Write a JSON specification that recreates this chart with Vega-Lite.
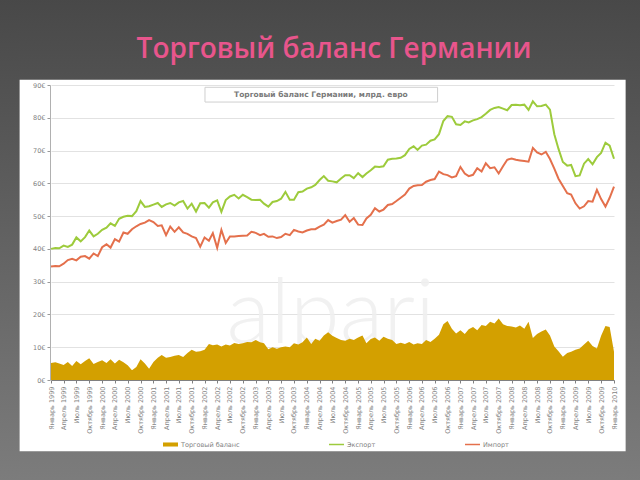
{
 "$schema": "https://vega.github.io/schema/vega-lite/v6.json",
 "autosize": {"type": "none"},
 "width": 563,
 "height": 295,
 "padding": {"left": 51, "top": 85, "right": 26, "bottom": 100},
 "background": "#ffffff",
 "config": {
  "view": {"stroke": null},
  "axis": {"labelFont": "DejaVu Sans", "labelColor": "#7f7f7f", "labelFontSize": 6.5, "domainColor": "#999999", "tickColor": "#999999", "tickSize": 3, "gridColor": "#e2e2e2"}
 },
 "datasets": {
  "trade": [
   {"d":"1999/01/01","balance":5.2,"export":40.0,"import":34.6},
   {"d":"1999/02/01","balance":5.4,"export":40.3,"import":34.8},
   {"d":"1999/03/01","balance":5.0,"export":40.2,"import":34.7},
   {"d":"1999/04/01","balance":4.6,"export":41.0,"import":35.5},
   {"d":"1999/05/01","balance":5.5,"export":40.6,"import":36.6},
   {"d":"1999/06/01","balance":4.3,"export":41.3,"import":37.0},
   {"d":"1999/07/01","balance":5.8,"export":43.5,"import":36.5},
   {"d":"1999/08/01","balance":4.8,"export":42.3,"import":37.6},
   {"d":"1999/09/01","balance":5.8,"export":43.6,"import":37.8},
   {"d":"1999/10/01","balance":6.6,"export":45.6,"import":37.0},
   {"d":"1999/11/01","balance":4.9,"export":43.8,"import":38.6},
   {"d":"1999/12/01","balance":5.5,"export":44.6,"import":37.8},
   {"d":"2000/01/01","balance":6.0,"export":45.8,"import":40.5},
   {"d":"2000/02/01","balance":5.2,"export":46.5,"import":41.4},
   {"d":"2000/03/01","balance":6.3,"export":47.8,"import":40.4},
   {"d":"2000/04/01","balance":5.0,"export":47.0,"import":43.0},
   {"d":"2000/05/01","balance":6.2,"export":49.2,"import":42.2},
   {"d":"2000/06/01","balance":5.4,"export":49.8,"import":45.0},
   {"d":"2000/07/01","balance":4.5,"export":50.1,"import":44.6},
   {"d":"2000/08/01","balance":3.0,"export":50.0,"import":46.0},
   {"d":"2000/09/01","balance":4.0,"export":51.5,"import":46.9},
   {"d":"2000/10/01","balance":6.3,"export":54.6,"import":47.6},
   {"d":"2000/11/01","balance":5.0,"export":52.8,"import":48.0},
   {"d":"2000/12/01","balance":3.4,"export":53.0,"import":48.8},
   {"d":"2001/01/01","balance":5.5,"export":53.5,"import":48.2},
   {"d":"2001/02/01","balance":6.8,"export":54.0,"import":47.0},
   {"d":"2001/03/01","balance":7.6,"export":52.8,"import":47.2},
   {"d":"2001/04/01","balance":6.8,"export":53.6,"import":44.2},
   {"d":"2001/05/01","balance":7.0,"export":54.0,"import":46.8},
   {"d":"2001/06/01","balance":7.4,"export":53.2,"import":45.2},
   {"d":"2001/07/01","balance":7.6,"export":54.2,"import":46.6},
   {"d":"2001/08/01","balance":7.0,"export":54.6,"import":45.0},
   {"d":"2001/09/01","balance":8.2,"export":52.3,"import":44.6},
   {"d":"2001/10/01","balance":9.2,"export":53.8,"import":43.8},
   {"d":"2001/11/01","balance":8.6,"export":51.4,"import":43.3},
   {"d":"2001/12/01","balance":8.8,"export":53.9,"import":40.7},
   {"d":"2002/01/01","balance":9.2,"export":54.0,"import":43.5},
   {"d":"2002/02/01","balance":11.0,"export":52.6,"import":42.5},
   {"d":"2002/03/01","balance":10.6,"export":54.2,"import":44.8},
   {"d":"2002/04/01","balance":10.8,"export":54.8,"import":40.3},
   {"d":"2002/05/01","balance":10.2,"export":51.3,"import":45.8},
   {"d":"2002/06/01","balance":10.8,"export":54.9,"import":41.8},
   {"d":"2002/07/01","balance":10.5,"export":56.0,"import":43.8},
   {"d":"2002/08/01","balance":11.3,"export":56.5,"import":43.8},
   {"d":"2002/09/01","balance":11.0,"export":55.4,"import":43.9},
   {"d":"2002/10/01","balance":11.2,"export":56.5,"import":44.0},
   {"d":"2002/11/01","balance":11.6,"export":55.8,"import":44.1},
   {"d":"2002/12/01","balance":11.5,"export":55.0,"import":45.2},
   {"d":"2003/01/01","balance":12.2,"export":54.9,"import":44.9},
   {"d":"2003/02/01","balance":11.5,"export":55.0,"import":44.2},
   {"d":"2003/03/01","balance":11.2,"export":53.8,"import":44.6},
   {"d":"2003/04/01","balance":9.4,"export":52.9,"import":43.7},
   {"d":"2003/05/01","balance":10.0,"export":54.3,"import":43.8},
   {"d":"2003/06/01","balance":9.5,"export":54.6,"import":43.3},
   {"d":"2003/07/01","balance":10.0,"export":55.3,"import":43.6},
   {"d":"2003/08/01","balance":10.2,"export":57.4,"import":44.6},
   {"d":"2003/09/01","balance":10.0,"export":55.0,"import":44.2},
   {"d":"2003/10/01","balance":11.2,"export":55.0,"import":45.8},
   {"d":"2003/11/01","balance":10.8,"export":57.3,"import":45.3},
   {"d":"2003/12/01","balance":11.5,"export":57.5,"import":45.0},
   {"d":"2004/01/01","balance":13.0,"export":58.4,"import":45.6},
   {"d":"2004/02/01","balance":11.0,"export":58.8,"import":46.0},
   {"d":"2004/03/01","balance":12.6,"export":59.5,"import":46.0},
   {"d":"2004/04/01","balance":12.0,"export":61.0,"import":46.8},
   {"d":"2004/05/01","balance":13.6,"export":62.2,"import":47.4},
   {"d":"2004/06/01","balance":14.6,"export":60.8,"import":48.8},
   {"d":"2004/07/01","balance":13.5,"export":60.6,"import":48.0},
   {"d":"2004/08/01","balance":12.8,"export":60.3,"import":48.5},
   {"d":"2004/09/01","balance":12.2,"export":61.5,"import":48.9},
   {"d":"2004/10/01","balance":12.0,"export":62.5,"import":50.3},
   {"d":"2004/11/01","balance":12.6,"export":62.5,"import":48.3},
   {"d":"2004/12/01","balance":12.2,"export":61.6,"import":49.4},
   {"d":"2005/01/01","balance":13.0,"export":63.1,"import":47.4},
   {"d":"2005/02/01","balance":13.6,"export":61.9,"import":47.3},
   {"d":"2005/03/01","balance":11.2,"export":63.0,"import":49.3},
   {"d":"2005/04/01","balance":12.5,"export":64.0,"import":50.4},
   {"d":"2005/05/01","balance":13.0,"export":65.1,"import":52.4},
   {"d":"2005/06/01","balance":12.0,"export":65.0,"import":51.4},
   {"d":"2005/07/01","balance":13.2,"export":65.2,"import":52.0},
   {"d":"2005/08/01","balance":12.6,"export":67.2,"import":53.4},
   {"d":"2005/09/01","balance":12.2,"export":67.5,"import":53.7},
   {"d":"2005/10/01","balance":11.0,"export":67.6,"import":54.6},
   {"d":"2005/11/01","balance":11.4,"export":67.8,"import":55.6},
   {"d":"2005/12/01","balance":11.0,"export":68.6,"import":56.6},
   {"d":"2006/01/01","balance":11.6,"export":70.5,"import":58.4},
   {"d":"2006/02/01","balance":10.8,"export":71.3,"import":59.2},
   {"d":"2006/03/01","balance":11.2,"export":70.2,"import":59.4},
   {"d":"2006/04/01","balance":11.0,"export":71.5,"import":59.5},
   {"d":"2006/05/01","balance":12.2,"export":71.8,"import":60.5},
   {"d":"2006/06/01","balance":11.6,"export":73.0,"import":61.0},
   {"d":"2006/07/01","balance":12.6,"export":73.4,"import":61.3},
   {"d":"2006/08/01","balance":13.8,"export":75.0,"import":63.6},
   {"d":"2006/09/01","balance":17.0,"export":79.0,"import":62.8},
   {"d":"2006/10/01","balance":18.0,"export":80.5,"import":62.5},
   {"d":"2006/11/01","balance":15.6,"export":80.3,"import":61.8},
   {"d":"2006/12/01","balance":14.2,"export":78.0,"import":62.2},
   {"d":"2007/01/01","balance":15.2,"export":77.8,"import":65.0},
   {"d":"2007/02/01","balance":14.0,"export":78.9,"import":63.0},
   {"d":"2007/03/01","balance":15.5,"export":78.6,"import":62.2},
   {"d":"2007/04/01","balance":16.2,"export":79.2,"import":62.6},
   {"d":"2007/05/01","balance":15.2,"export":79.6,"import":64.6},
   {"d":"2007/06/01","balance":16.8,"export":80.2,"import":63.6},
   {"d":"2007/07/01","balance":16.5,"export":81.2,"import":66.1},
   {"d":"2007/08/01","balance":17.8,"export":82.4,"import":64.6},
   {"d":"2007/09/01","balance":17.2,"export":83.0,"import":64.9},
   {"d":"2007/10/01","balance":18.8,"export":83.3,"import":63.0},
   {"d":"2007/11/01","balance":17.0,"export":82.8,"import":65.2},
   {"d":"2007/12/01","balance":16.5,"export":82.3,"import":67.2},
   {"d":"2008/01/01","balance":16.3,"export":83.9,"import":67.6},
   {"d":"2008/02/01","balance":16.0,"export":84.0,"import":67.2},
   {"d":"2008/03/01","balance":16.6,"export":83.8,"import":67.0},
   {"d":"2008/04/01","balance":15.6,"export":84.0,"import":66.8},
   {"d":"2008/05/01","balance":17.8,"export":82.4,"import":66.6},
   {"d":"2008/06/01","balance":12.8,"export":85.0,"import":70.8},
   {"d":"2008/07/01","balance":14.0,"export":83.5,"import":69.4},
   {"d":"2008/08/01","balance":14.8,"export":83.6,"import":68.8},
   {"d":"2008/09/01","balance":15.4,"export":84.0,"import":69.6},
   {"d":"2008/10/01","balance":13.6,"export":82.5,"import":67.4},
   {"d":"2008/11/01","balance":10.2,"export":75.0,"import":64.5},
   {"d":"2008/12/01","balance":8.8,"export":70.5,"import":61.4},
   {"d":"2009/01/01","balance":7.1,"export":66.5,"import":59.2},
   {"d":"2009/02/01","balance":8.2,"export":65.4,"import":57.0},
   {"d":"2009/03/01","balance":8.6,"export":65.6,"import":56.6},
   {"d":"2009/04/01","balance":9.2,"export":62.2,"import":53.9},
   {"d":"2009/05/01","balance":9.6,"export":62.4,"import":52.3},
   {"d":"2009/06/01","balance":10.8,"export":66.0,"import":53.0},
   {"d":"2009/07/01","balance":12.0,"export":67.4,"import":54.6},
   {"d":"2009/08/01","balance":10.4,"export":65.8,"import":54.4},
   {"d":"2009/09/01","balance":9.6,"export":68.0,"import":58.0},
   {"d":"2009/10/01","balance":13.5,"export":69.3,"import":55.2},
   {"d":"2009/11/01","balance":16.5,"export":72.4,"import":52.9},
   {"d":"2009/12/01","balance":16.2,"export":71.5,"import":55.6},
   {"d":"2010/01/01","balance":8.6,"export":67.5,"import":59.0}
  ]
 },
 "layer": [
  {
   "data": {"values": [{}]},
   "mark": {"type": "rect", "fill": {"gradient": "linear", "x1": 0, "y1": 0, "x2": 0, "y2": 1, "stops": [{"offset": 0, "color": "#454545"}, {"offset": 1, "color": "#515151"}]}},
   "encoding": {
    "x": {"datum": {"year": 1996, "month": 1, "date": 1}, "type": "temporal", "scale": {"domain": [{"year": 1999, "month": 1, "date": 1}, {"year": 2010, "month": 1, "date": 1}], "nice": false},
     "axis": {"title": null, "grid": false, "tickCount": {"interval": "month", "step": 3}, "labelAngle": -90, "labelOverlap": false, "labelFlush": false, "labelBound": false, "labelPadding": 3, "domainColor": "#808080", "tickColor": "#808080",
      "labelExpr": "['Январь','','','Апрель','','','Июль','','','Октябрь','',''][month(datum.value)] + ' ' + year(datum.value)"}},
    "x2": {"datum": {"year": 2013, "month": 1, "date": 1}},
    "y": {"datum": 125, "type": "quantitative", "scale": {"domain": [0, 90], "nice": false},
     "axis": {"title": null, "grid": true, "values": [0, 10, 20, 30, 40, 50, 60, 70, 80, 90], "labelExpr": "datum.value + '€'", "domainColor": "#b0b0b0", "labelPadding": 2, "offset": 1}},
    "y2": {"datum": 91.6}
   }
  },
  {
   "data": {"values": [{}]},
   "mark": {"type": "rect", "fill": {"gradient": "linear", "x1": 0, "y1": 0, "x2": 0, "y2": 1, "stops": [{"offset": 0, "color": "#797979"}, {"offset": 1, "color": "#818181"}]}},
   "encoding": {
    "x": {"datum": {"year": 1996, "month": 1, "date": 1}, "type": "temporal", "scale": {"domain": [{"year": 1999, "month": 1, "date": 1}, {"year": 2010, "month": 1, "date": 1}], "nice": false},
     "axis": {"title": null, "grid": false, "tickCount": {"interval": "month", "step": 3}, "labelAngle": -90, "labelOverlap": false, "labelFlush": false, "labelBound": false, "labelPadding": 3, "domainColor": "#808080", "tickColor": "#808080",
      "labelExpr": "['Январь','','','Апрель','','','Июль','','','Октябрь','',''][month(datum.value)] + ' ' + year(datum.value)"}},
    "x2": {"datum": {"year": 2013, "month": 1, "date": 1}},
    "y": {"datum": -21.7, "type": "quantitative", "scale": {"domain": [0, 90], "nice": false},
     "axis": {"title": null, "grid": true, "values": [0, 10, 20, 30, 40, 50, 60, 70, 80, 90], "labelExpr": "datum.value + '€'", "domainColor": "#b0b0b0", "labelPadding": 2, "offset": 1}},
    "y2": {"datum": -45}
   }
  },
  {
   "data": {"values": [{}]},
   "mark": {"type": "rect", "fill": {"gradient": "linear", "x1": 0, "y1": 0, "x2": 0, "y2": 1, "stops": [{"offset": 0, "color": "#454545"}, {"offset": 1, "color": "#818181"}]}},
   "encoding": {
    "x": {"datum": {"year": 1996, "month": 1, "date": 1}, "type": "temporal", "scale": {"domain": [{"year": 1999, "month": 1, "date": 1}, {"year": 2010, "month": 1, "date": 1}], "nice": false},
     "axis": {"title": null, "grid": false, "tickCount": {"interval": "month", "step": 3}, "labelAngle": -90, "labelOverlap": false, "labelFlush": false, "labelBound": false, "labelPadding": 3, "domainColor": "#808080", "tickColor": "#808080",
      "labelExpr": "['Январь','','','Апрель','','','Июль','','','Октябрь','',''][month(datum.value)] + ' ' + year(datum.value)"}},
    "x2": {"datum": {"year": 1998, "month": 5, "date": 22}},
    "y": {"datum": 125, "type": "quantitative", "scale": {"domain": [0, 90], "nice": false},
     "axis": {"title": null, "grid": true, "values": [0, 10, 20, 30, 40, 50, 60, 70, 80, 90], "labelExpr": "datum.value + '€'", "domainColor": "#b0b0b0", "labelPadding": 2, "offset": 1}},
    "y2": {"datum": -45}
   }
  },
  {
   "data": {"values": [{}]},
   "mark": {"type": "rect", "fill": {"gradient": "linear", "x1": 0, "y1": 0, "x2": 0, "y2": 1, "stops": [{"offset": 0, "color": "#454545"}, {"offset": 1, "color": "#818181"}]}},
   "encoding": {
    "x": {"datum": {"year": 2010, "month": 3, "date": 25}, "type": "temporal", "scale": {"domain": [{"year": 1999, "month": 1, "date": 1}, {"year": 2010, "month": 1, "date": 1}], "nice": false},
     "axis": {"title": null, "grid": false, "tickCount": {"interval": "month", "step": 3}, "labelAngle": -90, "labelOverlap": false, "labelFlush": false, "labelBound": false, "labelPadding": 3, "domainColor": "#808080", "tickColor": "#808080",
      "labelExpr": "['Январь','','','Апрель','','','Июль','','','Октябрь','',''][month(datum.value)] + ' ' + year(datum.value)"}},
    "x2": {"datum": {"year": 2013, "month": 1, "date": 1}},
    "y": {"datum": 125, "type": "quantitative", "scale": {"domain": [0, 90], "nice": false},
     "axis": {"title": null, "grid": true, "values": [0, 10, 20, 30, 40, 50, 60, 70, 80, 90], "labelExpr": "datum.value + '€'", "domainColor": "#b0b0b0", "labelPadding": 2, "offset": 1}},
    "y2": {"datum": -45}
   }
  },
  {
   "data": {"values": [{}]},
   "mark": {"type": "text", "text": "alpari", "font": "Lato", "fontWeight": 300, "fontSize": 90, "color": "#efefef", "opacity": 0.85, "align": "center", "baseline": "alphabetic"},
   "encoding": {
    "x": {"datum": {"year": 2004, "month": 6, "date": 20}, "type": "temporal", "scale": {"domain": [{"year": 1999, "month": 1, "date": 1}, {"year": 2010, "month": 1, "date": 1}], "nice": false},
     "axis": {"title": null, "grid": false, "tickCount": {"interval": "month", "step": 3}, "labelAngle": -90, "labelOverlap": false, "labelFlush": false, "labelBound": false, "labelPadding": 3, "domainColor": "#808080", "tickColor": "#808080",
      "labelExpr": "['Январь','','','Апрель','','','Июль','','','Октябрь','',''][month(datum.value)] + ' ' + year(datum.value)"}},
    "y": {"datum": 11.3, "type": "quantitative", "scale": {"domain": [0, 90], "nice": false},
     "axis": {"title": null, "grid": true, "values": [0, 10, 20, 30, 40, 50, 60, 70, 80, 90], "labelExpr": "datum.value + '€'", "domainColor": "#b0b0b0", "labelPadding": 2, "offset": 1}}
   }
  },
  {
   "data": {"values": [{}]},
   "mark": {"type": "rect", "fill": "#ffffff", "stroke": "#cfcfcf", "strokeWidth": 1},
   "encoding": {
    "x": {"datum": {"year": 2002, "month": 1, "date": 4}, "type": "temporal", "scale": {"domain": [{"year": 1999, "month": 1, "date": 1}, {"year": 2010, "month": 1, "date": 1}], "nice": false},
     "axis": {"title": null, "grid": false, "tickCount": {"interval": "month", "step": 3}, "labelAngle": -90, "labelOverlap": false, "labelFlush": false, "labelBound": false, "labelPadding": 3, "domainColor": "#808080", "tickColor": "#808080",
      "labelExpr": "['Январь','','','Апрель','','','Июль','','','Октябрь','',''][month(datum.value)] + ' ' + year(datum.value)"}},
    "x2": {"datum": {"year": 2006, "month": 7, "date": 22}},
    "y": {"datum": 89.3, "type": "quantitative", "scale": {"domain": [0, 90], "nice": false},
     "axis": {"title": null, "grid": true, "values": [0, 10, 20, 30, 40, 50, 60, 70, 80, 90], "labelExpr": "datum.value + '€'", "domainColor": "#b0b0b0", "labelPadding": 2, "offset": 1}},
    "y2": {"datum": 84.8}
   }
  },
  {
   "data": {"values": [{}]},
   "mark": {"type": "text", "text": "Торговый баланс Германии, млрд. евро", "font": "DejaVu Sans", "fontWeight": "bold", "fontSize": 7.5, "color": "#7a7a7a", "align": "center", "baseline": "middle"},
   "encoding": {
    "x": {"datum": {"year": 2004, "month": 4, "date": 10}, "type": "temporal", "scale": {"domain": [{"year": 1999, "month": 1, "date": 1}, {"year": 2010, "month": 1, "date": 1}], "nice": false},
     "axis": {"title": null, "grid": false, "tickCount": {"interval": "month", "step": 3}, "labelAngle": -90, "labelOverlap": false, "labelFlush": false, "labelBound": false, "labelPadding": 3, "domainColor": "#808080", "tickColor": "#808080",
      "labelExpr": "['Январь','','','Апрель','','','Июль','','','Октябрь','',''][month(datum.value)] + ' ' + year(datum.value)"}},
    "y": {"datum": 87.0, "type": "quantitative", "scale": {"domain": [0, 90], "nice": false},
     "axis": {"title": null, "grid": true, "values": [0, 10, 20, 30, 40, 50, 60, 70, 80, 90], "labelExpr": "datum.value + '€'", "domainColor": "#b0b0b0", "labelPadding": 2, "offset": 1}}
   }
  },
  {
   "data": {"name": "trade"},
   "transform": [{"fold": ["balance"], "as": ["series", "value"]}],
   "mark": {"type": "area", "opacity": 1},
   "encoding": {
    "x": {"field": "d", "type": "temporal", "scale": {"domain": [{"year": 1999, "month": 1, "date": 1}, {"year": 2010, "month": 1, "date": 1}], "nice": false},
     "axis": {"title": null, "grid": false, "tickCount": {"interval": "month", "step": 3}, "labelAngle": -90, "labelOverlap": false, "labelFlush": false, "labelBound": false, "labelPadding": 3, "domainColor": "#808080", "tickColor": "#808080",
      "labelExpr": "['Январь','','','Апрель','','','Июль','','','Октябрь','',''][month(datum.value)] + ' ' + year(datum.value)"}},
    "y": {"field": "value", "type": "quantitative", "stack": null, "scale": {"domain": [0, 90], "nice": false},
     "axis": {"title": null, "grid": true, "values": [0, 10, 20, 30, 40, 50, 60, 70, 80, 90], "labelExpr": "datum.value + '€'", "domainColor": "#b0b0b0", "labelPadding": 2, "offset": 1}},
    "color": {"field": "series", "type": "nominal", "scale": {"domain": ["balance", "export", "import"], "range": ["#d3a000", "#9dcb3c", "#e4704c"]},
     "legend": {"orient": "none", "legendX": 112, "legendY": 352, "direction": "horizontal", "title": null, "columnPadding": 89, "symbolSize": 225, "labelFont": "DejaVu Sans", "labelFontSize": 6.5, "labelColor": "#7f7f7f", "labelOffset": 3,
      "labelExpr": "datum.value === 'balance' ? 'Торговый баланс' : datum.value === 'export' ? 'Экспорт' : 'Импорт'",
      "encode": {"symbols": {"update": {"shape": {"signal": "datum.value === 'balance' ? 'M-1,-0.27H1V0.27H-1Z' : 'M-1,-0.1H1V0.1H-1Z'"}, "fill": {"scale": "color", "field": "value"}, "stroke": {"value": "transparent"}, "strokeWidth": {"value": 0}, "opacity": {"value": 1}}}}}}
   }
  },
  {
   "data": {"name": "trade"},
   "transform": [{"fold": ["export", "import"], "as": ["series", "value"]}],
   "mark": {"type": "line", "strokeWidth": 2},
   "encoding": {
    "x": {"field": "d", "type": "temporal", "scale": {"domain": [{"year": 1999, "month": 1, "date": 1}, {"year": 2010, "month": 1, "date": 1}], "nice": false},
     "axis": {"title": null, "grid": false, "tickCount": {"interval": "month", "step": 3}, "labelAngle": -90, "labelOverlap": false, "labelFlush": false, "labelBound": false, "labelPadding": 3, "domainColor": "#808080", "tickColor": "#808080",
      "labelExpr": "['Январь','','','Апрель','','','Июль','','','Октябрь','',''][month(datum.value)] + ' ' + year(datum.value)"}},
    "y": {"field": "value", "type": "quantitative", "scale": {"domain": [0, 90], "nice": false},
     "axis": {"title": null, "grid": true, "values": [0, 10, 20, 30, 40, 50, 60, 70, 80, 90], "labelExpr": "datum.value + '€'", "domainColor": "#b0b0b0", "labelPadding": 2, "offset": 1}},
    "color": {"field": "series", "type": "nominal", "scale": {"domain": ["balance", "export", "import"], "range": ["#d3a000", "#9dcb3c", "#e4704c"]},
     "legend": {"orient": "none", "legendX": 112, "legendY": 352, "direction": "horizontal", "title": null, "columnPadding": 89, "symbolSize": 225, "labelFont": "DejaVu Sans", "labelFontSize": 6.5, "labelColor": "#7f7f7f", "labelOffset": 3,
      "labelExpr": "datum.value === 'balance' ? 'Торговый баланс' : datum.value === 'export' ? 'Экспорт' : 'Импорт'",
      "encode": {"symbols": {"update": {"shape": {"signal": "datum.value === 'balance' ? 'M-1,-0.27H1V0.27H-1Z' : 'M-1,-0.1H1V0.1H-1Z'"}, "fill": {"scale": "color", "field": "value"}, "stroke": {"value": "transparent"}, "strokeWidth": {"value": 0}, "opacity": {"value": 1}}}}}}
   }
  },
  {
   "data": {"values": [{}]},
   "mark": {"type": "text", "text": "Торговый баланс Германии", "font": "Open Sans", "fontWeight": 600, "fontSize": 28, "color": "#e8558c", "align": "center", "baseline": "alphabetic"},
   "encoding": {
    "x": {"datum": {"year": 2004, "month": 7, "date": 13}, "type": "temporal", "scale": {"domain": [{"year": 1999, "month": 1, "date": 1}, {"year": 2010, "month": 1, "date": 1}], "nice": false},
     "axis": {"title": null, "grid": false, "tickCount": {"interval": "month", "step": 3}, "labelAngle": -90, "labelOverlap": false, "labelFlush": false, "labelBound": false, "labelPadding": 3, "domainColor": "#808080", "tickColor": "#808080",
      "labelExpr": "['Январь','','','Апрель','','','Июль','','','Октябрь','',''][month(datum.value)] + ' ' + year(datum.value)"}},
    "y": {"datum": 98.2, "type": "quantitative", "scale": {"domain": [0, 90], "nice": false},
     "axis": {"title": null, "grid": true, "values": [0, 10, 20, 30, 40, 50, 60, 70, 80, 90], "labelExpr": "datum.value + '€'", "domainColor": "#b0b0b0", "labelPadding": 2, "offset": 1}}
   }
  }
 ]
}
